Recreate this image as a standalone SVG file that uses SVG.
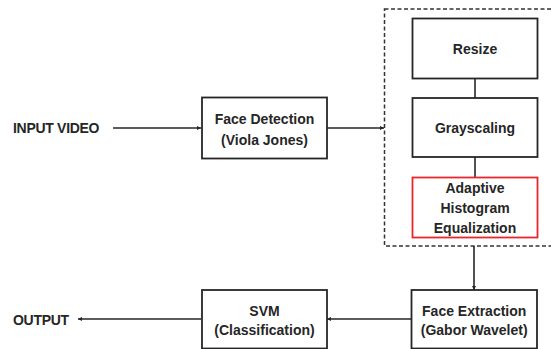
<svg xmlns="http://www.w3.org/2000/svg" width="551" height="349" viewBox="0 0 551 349">
  <style>
    .box { fill: #ffffff; stroke: #262626; stroke-width: 1.8; }
    .hl { fill: #ffffff; stroke: #e8262b; stroke-width: 1.8; }
    .grp { fill: none; stroke: #333333; stroke-width: 1.5; stroke-dasharray: 4 2.5; }
    .lbl { font-family: "Liberation Sans", Arial, sans-serif; font-weight: bold; font-size: 14px; fill: #262626; text-anchor: middle; }
    .io { font-family: "Liberation Sans", Arial, sans-serif; font-weight: bold; font-size: 14px; fill: #262626; letter-spacing: -0.3px; }
    .wire { fill: none; stroke: #262626; stroke-width: 1.6; }
  </style>
  <defs>
    <marker id="arrow" viewBox="0 0 8 8" refX="8" refY="4" markerWidth="4" markerHeight="4" orient="auto" markerUnits="userSpaceOnUse">
      <path d="M0,0 L8,4 L0,8 Z" fill="#262626"/>
    </marker>
  </defs>
  <rect width="551" height="349" fill="#ffffff"/>

  <!-- preprocessing group; its right side runs past the canvas edge -->
  <rect id="preprocessing" class="grp" x="384.5" y="9" width="180" height="237"/>

  <g id="connectors">
    <path class="wire" d="M113,128 H201" marker-end="url(#arrow)"/>
    <path class="wire" d="M327,128 H384" marker-end="url(#arrow)"/>
    <path class="wire" d="M475,78 V98"/>
    <path class="wire" d="M475,157 V177"/>
    <path class="wire" d="M474,246 V290" marker-end="url(#arrow)"/>
    <path class="wire" d="M411,319 H327" marker-end="url(#arrow)"/>
    <path class="wire" d="M201,319 H78" marker-end="url(#arrow)"/>
  </g>

  <g id="input-video">
    <text class="io" x="13" y="133.3">INPUT VIDEO</text>
  </g>

  <g id="face-detection">
    <rect class="box" x="202" y="97.5" width="125" height="61"/>
    <text class="lbl" x="264.5" y="124">Face Detection</text>
    <text class="lbl" x="264.5" y="145">(Viola Jones)</text>
  </g>

  <g id="resize">
    <rect class="box" x="412.5" y="18.5" width="125" height="60"/>
    <text class="lbl" x="475" y="54">Resize</text>
  </g>

  <g id="grayscaling">
    <rect class="box" x="412.5" y="98" width="125" height="59"/>
    <text class="lbl" x="475" y="132.7">Grayscaling</text>
  </g>

  <g id="adaptive-histogram-equalization">
    <rect class="hl" x="412.5" y="177.5" width="125" height="60"/>
    <text class="lbl" x="475" y="193.3">Adaptive</text>
    <text class="lbl" x="475" y="213.3">Histogram</text>
    <text class="lbl" x="475" y="233.3">Equalization</text>
  </g>

  <g id="face-extraction">
    <rect class="box" x="411.5" y="290" width="125.5" height="58.5"/>
    <text class="lbl" x="474.2" y="316">Face Extraction</text>
    <text class="lbl" x="474.2" y="335">(Gabor Wavelet)</text>
  </g>

  <g id="svm">
    <rect class="box" x="202" y="290" width="125" height="58.5"/>
    <text class="lbl" x="264.5" y="316">SVM</text>
    <text class="lbl" x="264.5" y="335">(Classification)</text>
  </g>

  <g id="output">
    <text class="io" x="13" y="325">OUTPUT</text>
  </g>
</svg>
